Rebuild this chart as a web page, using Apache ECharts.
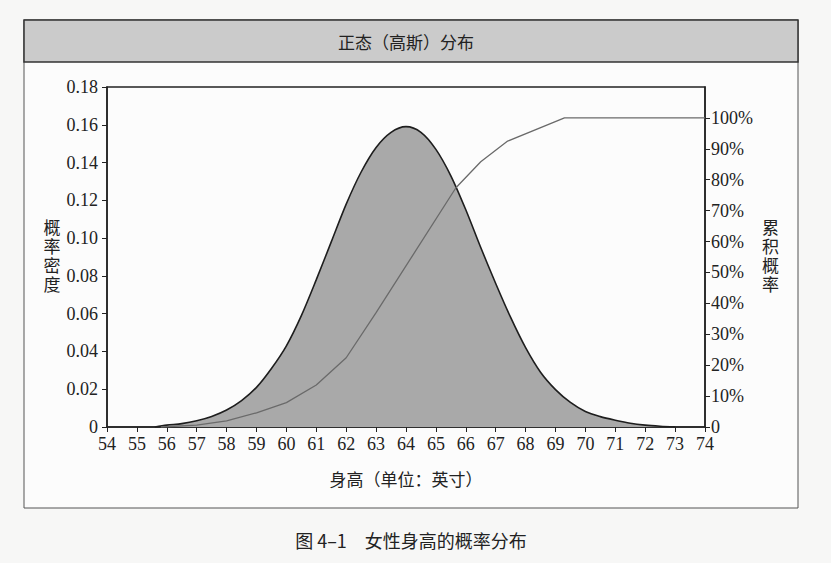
<!DOCTYPE html>
<html>
<head>
<meta charset="utf-8">
<script src="https://cdn.jsdelivr.net/npm/echarts@6/dist/echarts.min.js"></script>
<style>
  html, body { margin: 0; padding: 0; background: #f7f7f6; }
  #chart { width: 831px; height: 563px; }
</style>
</head>
<body>
<div id="chart"></div>
<script>
// height in inches -> probability density
const densityX = [55.6, 56, 56.5, 57, 57.5, 58, 58.5, 59, 59.5, 60, 60.5, 61, 61.5, 62, 62.5, 63, 63.5, 64,
                  64.5, 65, 65.5, 66, 66.5, 67, 67.5, 68, 68.5, 69, 69.5, 70, 70.5, 71, 71.5, 72, 72.5, 73];
const densityY = [0, 0.001, 0.0018, 0.0033, 0.0056, 0.009, 0.014, 0.021, 0.031, 0.043, 0.059, 0.078, 0.098, 0.118, 0.135, 0.148, 0.156, 0.159,
                  0.156, 0.147, 0.133, 0.115, 0.095, 0.076, 0.058, 0.042, 0.029, 0.0198, 0.013, 0.0082, 0.0055, 0.0036, 0.002, 0.001, 0.0004, 0];

// cumulative probability polyline (right axis)
const cumX = [55.8, 57, 58, 59, 60, 61, 62, 63, 65.67, 66.5, 67.4, 69.3, 74];
const cumY = [0, 0.006, 0.02, 0.046, 0.079, 0.136, 0.224, 0.37, 0.774, 0.858, 0.925, 1.0, 1.0];

const pctTicks = [0, 0.1, 0.2, 0.3, 0.4, 0.5, 0.6, 0.7, 0.8, 0.9, 1.0];

const SERIF = '"Liberation Serif", "Noto Sans CJK SC", serif';
const SANS = '"Noto Sans CJK SC", "Noto Sans", sans-serif';
const INK = '#222';

const chart = echarts.init(document.getElementById('chart'), null, { renderer: 'svg' });

const axisLine = { show: true, lineStyle: { color: INK, width: 1.5 } };
const axisTick = { show: true, length: 5, lineStyle: { color: INK, width: 1 } };
const label = { color: INK, fontFamily: SERIF, fontSize: 18 };
const axisName = { color: INK, fontFamily: SERIF, fontSize: 17, lineHeight: 19 };

chart.setOption({
  animation: false,
  graphic: [
    { type: 'rect', z: -10, shape: { x: 24, y: 20, width: 774, height: 488 },
      style: { fill: '#fcfcfc', stroke: '#555', lineWidth: 1 } },
    { type: 'rect', z: -9, shape: { x: 24, y: 20, width: 774, height: 42 },
      style: { fill: '#cbcbcb', stroke: '#333', lineWidth: 1.5 } },
    { type: 'text', z: 5, x: 406, y: 41,
      style: { text: '正态（高斯）分布', fill: INK, font: '17px ' + SANS,
               textAlign: 'center', textVerticalAlign: 'middle' } },
    { type: 'text', z: 5, x: 411, y: 540,
      style: { text: '图 4–1　女性身高的概率分布', fill: INK, font: '18px ' + SANS,
               textAlign: 'center', textVerticalAlign: 'middle' } }
  ],
  grid: {
    left: 107, right: 126, top: 87, bottom: 136,
    show: true, borderColor: INK, borderWidth: 1.5, backgroundColor: 'transparent'
  },
  xAxis: {
    type: 'value', min: 54, max: 74, interval: 1,
    name: '身高（单位：英寸）', nameLocation: 'middle', nameGap: 44,
    nameTextStyle: axisName,
    axisLine, axisTick, splitLine: { show: false },
    axisLabel: { ...label, margin: 8 }
  },
  yAxis: [
    {
      type: 'value', min: 0, max: 0.18, interval: 0.02, position: 'left',
      name: '概\n率\n密\n度', nameLocation: 'middle', nameRotate: 0, nameGap: 26,
      nameTextStyle: axisName,
      axisLine, axisTick, splitLine: { show: false },
      axisLabel: { ...label, margin: 9, formatter: v => v === 0 ? '0' : v.toFixed(2) }
    },
    {
      type: 'value', min: 0, max: 1.1, interval: 0.1, position: 'right',
      name: '累\n积\n概\n率', nameLocation: 'middle', nameRotate: 0, nameGap: 57,
      nameTextStyle: axisName,
      axisLine,
      axisTick: { ...axisTick, customValues: pctTicks },
      splitLine: { show: false },
      axisLabel: { ...label, margin: 6, customValues: pctTicks,
                   formatter: v => v === 0 ? '0' : Math.round(v * 100) + '%' }
    }
  ],
  series: [
    {
      name: '概率密度', type: 'line', yAxisIndex: 0, smooth: 0.3, symbol: 'none',
      data: densityX.map((x, i) => [x, densityY[i]]),
      lineStyle: { color: '#1e1e1e', width: 1.6 },
      areaStyle: { color: '#a9a9a9', opacity: 1 },
      z: 2
    },
    {
      name: '累积概率', type: 'line', yAxisIndex: 1, symbol: 'none',
      data: cumX.map((x, i) => [x, cumY[i]]),
      lineStyle: { color: '#6a6a6a', width: 1.3 },
      z: 3
    }
  ]
});
</script>
</body>
</html>
